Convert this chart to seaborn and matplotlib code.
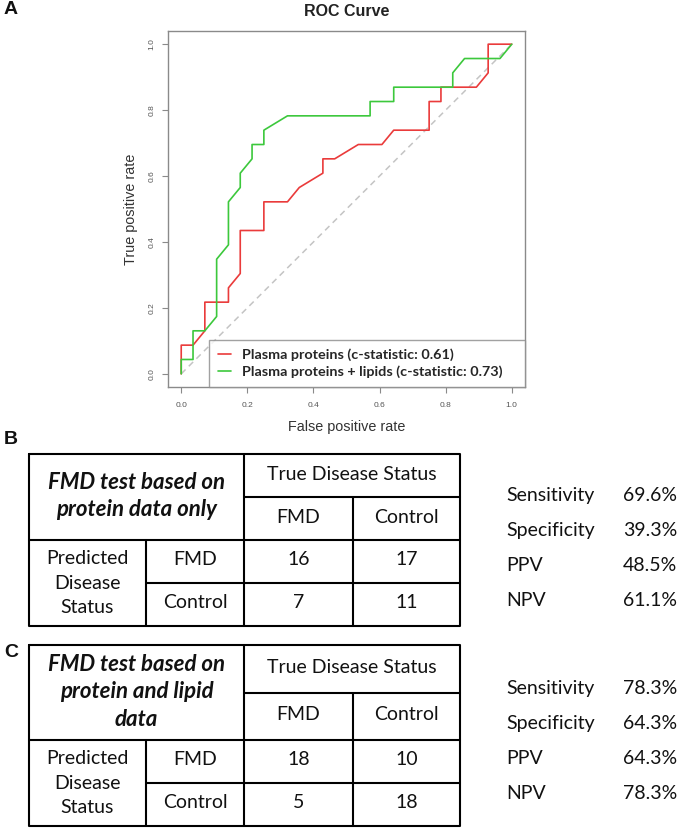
import numpy as np
import pandas as pd
import seaborn as sns
import matplotlib.pyplot as plt

# ROC steps, as counts of controls (28) and FMD cases (23)
n_controls = 28
n_cases = 23
protein_fp = [0, 0, 1, 2, 2, 4, 4, 5, 5, 7, 7, 9, 10, 12, 12, 13, 15, 17, 18, 21, 21, 22, 22, 25, 26, 26, 28]
protein_tp = [0, 2, 2, 3, 5, 5, 6, 7, 10, 10, 12, 12, 13, 14, 15, 15, 16, 16, 17, 17, 19, 19, 20, 20, 21, 23, 23]
lipid_fp = [0, 0, 1, 1, 2, 3, 3, 4, 4, 5, 5, 6, 6, 7, 7, 9, 16, 16, 18, 18, 23, 23, 24, 27, 28]
lipid_tp = [0, 1, 1, 3, 3, 4, 8, 9, 12, 13, 14, 15, 16, 16, 17, 18, 18, 19, 19, 20, 20, 21, 22, 22, 23]
roc_labels = ['Plasma proteins (c-statistic: 0.61)',
              'Plasma proteins + lipids (c-statistic: 0.73)']
axis_ticks = [0.0, 0.2, 0.4, 0.6, 0.8, 1.0]

# confusion tables (panels B and C)
table_titles = [['FMD test based on', 'protein data only'],
                ['FMD test based on', 'protein and lipid', 'data']]
classes = ['FMD', 'Control']
protein_counts = [[16, 17], [7, 11]]
lipid_counts = [[18, 10], [5, 18]]
stat_names = ['Sensitivity', 'Specificity', 'PPV', 'NPV']
protein_stats = ['69.6%', '39.3%', '48.5%', '61.1%']
lipid_stats = ['78.3%', '64.3%', '64.3%', '78.3%']

RED = '#EA3B3B'
GREEN = '#3CC83C'
GRAY = '#8A8A8A'

sns.set_theme(style='white')
plt.rcParams['font.family'] = ['Liberation Sans', 'DejaVu Sans']

W, H = 677, 830
fig = plt.figure(figsize=(W / 100, H / 100), dpi=100)

# overlay in pixel units for the panel letters and the tables
ax_t = fig.add_axes([0, 0, 1, 1])
ax_t.set_xlim(0, W)
ax_t.set_ylim(H, 0)
ax_t.set_axis_off()

# ROC panel, box from x=168..525, y=31..387 px
ax = fig.add_axes([168 / W, 1 - 387 / H, 357 / W, 356 / H])
roc = pd.DataFrame({
    'fpr': np.concatenate([np.array(protein_fp) / n_controls, np.array(lipid_fp) / n_controls]),
    'tpr': np.concatenate([np.array(protein_tp) / n_cases, np.array(lipid_tp) / n_cases]),
    'model': [roc_labels[0]] * len(protein_fp) + [roc_labels[1]] * len(lipid_fp),
})
ax.plot([0, 1], [0, 1], color='#C4C4C4', lw=1.1, ls=(0, (4, 3)), zorder=1)
sns.lineplot(data=roc, x='fpr', y='tpr', hue='model', palette=[RED, GREEN],
             sort=False, estimator=None, lw=1.2, ax=ax, zorder=2)

ax.set_xlim(-0.04, 1.04)
ax.set_ylim(-0.04, 1.04)
ax.set_xticks(axis_ticks, labels=[f'{t:.1f}' for t in axis_ticks])
ax.set_yticks(axis_ticks, labels=[f'{t:.1f}' for t in axis_ticks])
ax.tick_params(bottom=True, left=True, direction='out', length=4, width=0.8,
               color=GRAY, labelsize=6, labelcolor='#555555')
ax.tick_params(axis='x', pad=6.5)
ax.tick_params(axis='y', pad=5, labelrotation=90)
for lab in ax.get_yticklabels():
    lab.set_va('center')
for sp in ax.spines.values():
    sp.set_color(GRAY)
    sp.set_linewidth(1)
ax.set_xlabel('')
ax.set_ylabel('')
ax.text(0.5, (387 - 427) / 356, 'False positive rate', transform=ax.transAxes,
        ha='center', va='center', fontsize=10.4, color='#333333')
ax.text((131 - 168) / 357, 0.5, 'True positive rate', transform=ax.transAxes,
        rotation=90, ha='center', va='center', fontsize=10.4, color='#333333')

leg = ax.legend(loc='lower left', bbox_to_anchor=(41 / 357, 0, 316 / 357, 0.1),
                mode='expand', borderaxespad=0, borderpad=0.6, labelspacing=0.3,
                handlelength=0.95, handletextpad=0.75, fancybox=False,
                frameon=True, edgecolor=GRAY,
                prop=dict(family='Lato', weight='bold', size=10.4))
leg.get_frame().set_linewidth(1)
for line in leg.get_lines():
    line.set_linewidth(1.2)

ax_t.text(346.5, 12, 'ROC Curve', ha='center', va='center',
          fontsize=11.5, fontweight='bold', color='#222222')

# panel letters
for letter, y in zip(['A', 'B', 'C'], [10, 439, 652]):
    ax_t.text(11, y, letter, ha='center', va='center', fontsize=14,
              fontweight='bold', color='#111111')

# tables
cols = [29, 146, 244, 352.7, 460]
body = dict(family='Lato', fontsize=14, color='#111111', ha='center', va='center')


def draw_table(top, header, mid, bottom, title, counts, stats, stat_y):
    lw = 1.5
    ax_t.plot([cols[0], cols[4], cols[4], cols[0], cols[0]],
              [top, top, bottom, bottom, top], color='black', lw=lw)
    sub = (top + header) / 2
    ax_t.plot([cols[2], cols[2]], [top, bottom], color='black', lw=lw)
    ax_t.plot([cols[2], cols[4]], [sub, sub], color='black', lw=lw)
    ax_t.plot([cols[3], cols[3]], [sub, bottom], color='black', lw=lw)
    ax_t.plot([cols[0], cols[4]], [header, header], color='black', lw=lw)
    ax_t.plot([cols[1], cols[1]], [header, bottom], color='black', lw=lw)
    ax_t.plot([cols[1], cols[4]], [mid, mid], color='black', lw=lw)

    cx = (cols[0] + cols[2]) / 2
    hc = (top + header) / 2
    n = len(title)
    for i, line in enumerate(title):
        y = hc + (i - (n - 1) / 2) * 27.5 - 1
        ax_t.text(cx, y, line, family='Lato', fontsize=16, fontweight='bold',
                  fontstyle='italic', ha='center', va='center', color='#111111')

    ax_t.text((cols[2] + cols[4]) / 2, (top + sub) / 2 - 1.5, 'True Disease Status', **body)
    for j, c in enumerate(classes):
        ax_t.text((cols[2 + j] + cols[3 + j]) / 2, (sub + header) / 2 - 1.5, c, **body)

    rows = [(header + mid) / 2 - 2, (mid + bottom) / 2 - 2]
    for k, line in enumerate(['Predicted', 'Disease', 'Status']):
        ax_t.text((cols[0] + cols[1]) / 2, (header + bottom) / 2 + (k - 1) * 24.5, line, **body)
    for i, c in enumerate(classes):
        ax_t.text((cols[1] + cols[2]) / 2, rows[i], c, **body)
        for j in range(2):
            ax_t.text((cols[2 + j] + cols[3 + j]) / 2, rows[i], str(counts[i][j]), **body)

    for k, (name, val) in enumerate(zip(stat_names, stats)):
        y = stat_y + k * 35
        ax_t.text(506, y, name, **{**body, 'ha': 'left'})
        ax_t.text(623, y, val, **{**body, 'ha': 'left'})


draw_table(454, 540, 583.3, 626, table_titles[0], protein_counts, protein_stats, 495)
draw_table(645, 740, 783.3, 826, table_titles[1], lipid_counts, lipid_stats, 688)

fig.savefig('out.png', dpi=100)
